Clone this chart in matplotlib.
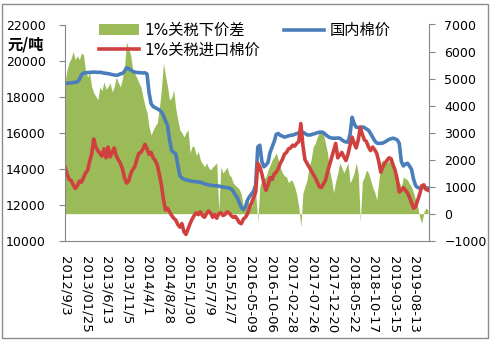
import numpy as np
import matplotlib
matplotlib.use("Agg")
import matplotlib.pyplot as plt
from matplotlib.patches import Patch, Rectangle
from matplotlib.lines import Line2D

plt.rcParams["font.family"] = ["DejaVu Sans", "Noto Sans CJK SC"]

# category axis: one sample every ~10 trading days, a label every 10 samples
tick_dates = ["2012/9/3", "2013/01/25", "2013/6/13", "2013/11/5", "2014/4/1",
              "2014/8/28", "2015/1/30", "2015/7/9", "2015/12/7", "2016-05-09",
              "2016-10-06", "2017-02-28", "2017-07-26", "2017-12-20",
              "2018-05-22", "2018-10-17", "2019-03-15", "2019-08-13"]

# 国内棉价 (元/吨, left axis)
domestic_price = [
    18720, 18740, 18750, 18760, 18780, 18800, 18810, 18950, 19200, 19300,
    19320, 19330, 19340, 19350, 19360, 19350, 19340, 19350, 19330, 19300,
    19290, 19270, 19250, 19220, 19200, 19180, 19200, 19260, 19280, 19400,
    19600, 19560, 19480, 19400, 19360, 19340, 19330, 19320, 19310, 19320,
    19250, 18200, 17600, 17450, 17380, 17320, 17260, 17150, 16950, 16650,
    16400, 15600, 15000, 14900, 14820, 14200, 13600, 13480, 13420, 13380,
    13350, 13320, 13300, 13280, 13270, 13260, 13250, 13200, 13160, 13120,
    13100, 13080, 13060, 13050, 13050, 13030, 13000, 12980, 12960, 12940,
    12920, 12880, 12750, 12550, 12400, 12100, 11850, 11720, 11900, 12250,
    12450, 12600, 12750, 13100, 15200, 15300, 14400, 14100, 14200, 14350,
    14900, 15200, 15500, 15900, 15950, 15850, 15800, 15750, 15780, 15820,
    15850, 15860, 15900, 15950, 15980, 16000, 16020, 15950, 15880, 15860,
    15880, 15920, 15950, 15990, 16020, 16030, 16000, 15900, 15800, 15730,
    15700, 15690, 15690, 15700, 15690, 15600, 15520, 15480, 15470, 15900,
    16850, 16500, 16300, 16280, 16300, 16310, 16280, 16200, 16130, 15950,
    15750, 15550, 15420, 15400, 15410, 15420, 15480, 15550, 15620, 15660,
    15690, 15650, 15600, 15400, 14400, 14150, 14250, 14300, 14150, 13950,
    13400, 13050, 12950, 12920, 12970, 12950, 12920, 12920]

# 1%关税进口棉价 (元/吨, left axis)
import_price = [
    14080, 13700, 13400, 13350, 13100, 12900, 13050, 13300, 13250, 13500,
    13750, 13900, 14400, 14800, 15650, 15200, 15000, 14850, 14700, 15100,
    14600, 15200, 14650, 14900, 15150, 14700, 14500, 14300, 14000, 13500,
    13200, 13300, 13700, 13950, 14100, 14500, 14850, 14900, 15100, 15350,
    15100, 14800, 14900, 14600, 14450, 14200, 13700, 13100, 12300, 11700,
    11800, 11600, 11400, 11250, 11150, 10900, 10750, 10950, 10500, 10350,
    10650, 10950, 11200, 11400, 11550, 11450, 11600, 11400, 11300, 11500,
    11650, 11550, 11300, 11450, 11250, 11500, 11550, 11400, 11450, 11600,
    11550, 11400, 11300, 11350, 11200, 11000, 10950, 11200, 11300, 11500,
    11850, 12100, 12400, 12700, 14300, 14100, 13700, 13200, 12800, 13100,
    13500, 13400, 13700, 13800, 14000, 14300, 14500, 14800, 14900, 15100,
    15150, 15300, 15250, 15400, 15500, 16500, 15300, 14500, 14300, 14100,
    13900, 13700, 13500, 13250, 13000, 12950, 13150, 13350, 13800, 14200,
    14600, 15000, 15400, 14600, 14750, 14900, 14650, 14450, 14800, 15300,
    15750, 15400, 15150, 15600, 16300, 15900, 15600, 15500, 15200, 15000,
    15200, 15050, 14850, 14400, 13800, 14100, 14300, 14450, 14600, 14550,
    14200, 13900, 13400, 12700, 12800, 12950, 12800, 12650, 12400, 12100,
    11800, 11900, 12250, 12600, 13050, 13100, 12850, 12800]

# 1%关税下价差 (元/吨, right axis)
price_gap = [
    4840, 5330, 5600, 5750, 6000, 5700, 5850, 5700, 5950, 5880,
    5300, 5060, 5210, 4700, 4470, 4350, 4210, 4690, 4550, 4880,
    4600, 4700, 4840, 4500, 4700, 5060, 4850, 4690, 5000, 5400,
    6360, 6100, 5880, 5350, 5200, 5030, 4850, 4690, 4320, 4000,
    3730, 3200, 2910, 3100, 3250, 3360, 3900, 4600, 5580, 5100,
    4690, 4200, 4300, 4580, 3900, 3470, 3100, 3000, 2840, 3000,
    3100, 2250, 2500, 2470, 2150, 2300, 1990, 1850, 1730, 1880,
    1700, 1620, 1730, 1800, 1880, 100, 1730, 1510, 1600, 1730,
    1450, 1360, 1140, 1050, 990, 900, 700, 250, 400, 510,
    300, 250, 500, 770, -300, 990, 1250, 1300, 1360, 1620,
    1800, 1990, 2100, 2250, 1990, 1700, 1510, 1400, 1360, 1140,
    1250, 1200, 990, 700, 250, -500, 770, 1000, 1250, 1700,
    1990, 2470, 2600, 2840, 3000, 3100, 2990, 2600, 2250, 1600,
    1250, 770, 1200, 1510, 1880, 1700, 1510, 1700, 1880, 1140,
    1300, 1510, 1880, 1500, -300, 1200, 1360, 1620, 1500, 1250,
    990, 800, 510, 1200, 1880, 1990, 1900, 1880, 1950, 1990,
    1730, 1600, 1360, 1150, 990, 1360, 1300, 1250, 1100, 990,
    770, 500, 250, -150, -350, 60, 210, 140]

BLUE = "#4a7ebb"
RED = "#d0403f"
GREEN = "#9bbb59"
GREY = "#868686"
W, H = 491, 342

fig = plt.figure(figsize=(W / 100, H / 100), dpi=100)
ax = fig.add_axes([65 / W, 1 - 240.7 / H, (429 - 65) / W, (240.7 - 24.5) / H])
ax2 = ax.twinx()
ax.set_zorder(ax2.get_zorder() + 1)
ax.patch.set_visible(False)

x = np.arange(len(domestic_price))
ax2.fill_between(x, 0, price_gap, color=GREEN, lw=0)
ax.plot(x, domestic_price, color=BLUE, lw=2.6)
ax.plot(x, import_price, color=RED, lw=2.6)

ax.set_xlim(0, len(x) - 0.5)
ax.set_ylim(10000, 22000)
ax.set_yticks(np.arange(10000, 22001, 2000))
ax2.set_ylim(-1000, 7000)
ax2.set_yticks(np.arange(-1000, 7001, 1000))

ax.set_xticks(np.arange(0, 10 * len(tick_dates), 10))
ax.set_xticklabels(tick_dates, rotation=270, fontsize=9.5)
ax.tick_params(axis="x", length=0, pad=11)
ax.tick_params(axis="y", length=4, width=0.8, color=GREY, pad=10, labelsize=9)
ax2.tick_params(axis="y", length=4, width=0.8, color=GREY, pad=7, labelsize=9)

for a in (ax, ax2):
    a.spines["top"].set_visible(False)
    for s in a.spines.values():
        s.set_color(GREY)
        s.set_linewidth(0.8)
ax.spines["right"].set_visible(False)
ax2.spines["left"].set_visible(False)
ax2.spines["bottom"].set_visible(False)

handles = [Patch(facecolor=GREEN, edgecolor="none"),
           Line2D([], [], color=RED, lw=2.6),
           Line2D([], [], color=BLUE, lw=2.6)]
labels = ["1%关税下价差", "1%关税进口棉价", "国内棉价"]
ax.legend(handles, labels, ncol=2, frameon=False, loc="upper left",
          bbox_to_anchor=(99 / W, 1 - 23 / H), bbox_transform=fig.transFigure,
          fontsize=11, handlelength=2.6, handleheight=0.7, handletextpad=0.35,
          columnspacing=1.6, labelspacing=0.3, borderpad=0, borderaxespad=0)

fig.text(8 / W, 1 - 44.5 / H, "元/吨", fontsize=11, fontweight="bold",
         family=["Noto Sans CJK SC", "DejaVu Sans"], va="center", ha="left")

fig.patches.append(Rectangle((2 / W, 4 / H), 486 / W, 334 / H, transform=fig.transFigure,
                             fill=False, edgecolor="#8c8c8c", lw=1))

fig.savefig("out.png", dpi=100)
